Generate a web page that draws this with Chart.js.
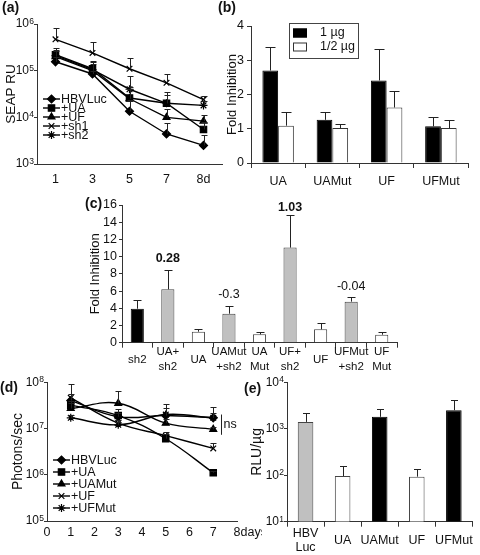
<!DOCTYPE html>
<html><head><meta charset="utf-8">
<script src="https://cdn.jsdelivr.net/npm/chart.js@4.4.0/dist/chart.umd.min.js"></script>
<style>
body{margin:0;background:#fff;width:480px;height:555px;position:relative;overflow:hidden;font-family:"Liberation Sans",Arial,sans-serif;}
canvas{position:absolute;}
.pl{position:absolute;font:bold 14px "Liberation Sans",Arial,sans-serif;line-height:15px;color:#111;}
</style></head><body>
<canvas id="ca" width="228" height="196" style="left:0;top:0"></canvas>
<canvas id="cb" width="258" height="196" style="left:222px;top:0"></canvas>
<canvas id="cc" width="330" height="190" style="left:80px;top:190px"></canvas>
<canvas id="cd" width="262" height="185" style="left:0;top:370px"></canvas>
<canvas id="ce" width="240" height="185" style="left:240px;top:370px"></canvas>
<div class="pl" style="left:2px;top:0">(a)</div>
<div class="pl" style="left:218px;top:0">(b)</div>
<div class="pl" style="left:85px;top:196px">(c)</div>
<div class="pl" style="left:0;top:380px">(d)</div>
<div class="pl" style="left:244px;top:381px">(e)</div>
<script>
// ---------- DATA ----------
// (a) SEAP RU over days
const daysA = ['1', '3', '5', '7', '8d'];
const hbvLucA = [1.55e5, 8.5e4, 1.35e4, 4.4e3, 2.5e3];
const uaA     = [2.2e5, 1.1e5, 2.6e4, 2.0e4, 5.5e3];
const ufA     = [2.0e5, 1.0e5, 2.5e4, 1.0e4, 8.3e3];
const sh1A    = [4.7e5, 2.4e5, 1.1e5, 5.5e4, 2.4e4];
const sh2A    = [2.1e5, 1.05e5, 4.0e4, 2.0e4, 1.8e4];
const hbvLucAErr = [2.0e5, 1.0e5, 2.4e4, 7.5e3, 4.2e3];
const uaAErr     = [3.0e5, 1.5e5, 4.5e4, 3.5e4, 8.0e3];
const ufAErr     = [2.6e5, 1.4e5, 4.0e4, 1.5e4, 1.1e4];
const sh1AErr    = [8.1e5, 4.2e5, 1.9e5, 8.5e4, 2.8e4];
const sh2AErr    = [2.8e5, 1.6e5, 7.7e4, 3.0e4, 2.2e4];
// (b) Fold inhibition
const catsB = ['UA', 'UAMut', 'UF', 'UFMut'];
const oneUg = [2.70, 1.26, 2.41, 1.07];
const halfUg = [1.09, 1.02, 1.62, 1.02];
const oneUgErr = [3.40, 1.50, 3.32, 1.34];
const halfUgErr = [1.50, 1.13, 2.09, 1.26];
// (c) Fold inhibition with sh2
const catsC = ['sh2', ['UA+', 'sh2'], 'UA', ['UAMut', '+sh2'], ['UA', 'Mut'], ['UF+', 'sh2'], 'UF', ['UFMut', '+sh2'], ['UF', 'Mut']];
const foldC = [3.95, 6.2, 1.28, 3.37, 0.97, 11.05, 1.55, 4.77, 0.93];
const foldCErr = [4.96, 8.45, 1.59, 4.3, 1.2, 14.84, 2.25, 5.27, 1.2];
const notesC = ['', '0.28', '', '-0.3', '', '1.03', '', '-0.04', ''];
const notesBoldC = [false, true, false, false, false, true, false, false, false];
// (d) Photons/sec over days
const daysD = [1, 3, 5, 7];
const hbvLucD = [4.0e7, 1.8e7, 1.9e7, 1.7e7];
const uaD     = [3.2e7, 1.9e7, 6.0e6, 1.1e6];
const uaMutD  = [2.7e7, 3.5e7, 1.3e7, 9.6e6];
const ufD     = [4.6e7, 1.3e7, 7.0e6, 3.7e6];
const ufMutD  = [1.7e7, 1.2e7, 2.0e7, 1.7e7];
const hbvLucDErr = [5.5e7, 2.6e7, 2.8e7, 2.9e7];
const uaDErr     = [4.0e7, 2.2e7, 7.5e6, 1.2e6];
const uaMutDErr  = [3.5e7, 6.6e7, 1.6e7, 1.1e7];
const ufDErr     = [9.0e7, 1.5e7, 8.5e6, 4.8e6];
const ufMutDErr  = [2.0e7, 1.4e7, 3.4e7, 2.2e7];
const nsBracket = {x: 7.32, top: 2.0e7, bottom: 7.3e6, text: 'ns'};
// (e) RLU/µg
const catsE = [['HBV', 'Luc'], 'UA', 'UAMut', 'UF', 'UFMut'];
const rluE = [1.4e3, 96, 1.8e3, 93, 2.5e3];
const rluEErr = [2.2e3, 158, 2.6e3, 135, 4.2e3];

// ---------- HELPERS ----------
const FF = '"Liberation Sans", Arial, sans-serif';
const AX = '#333', TXT = '#111';
Chart.defaults.font.family = FF;
Chart.defaults.color = TXT;
const decadeTicks = s => {
  const out = [];
  for (let e = Math.round(Math.log10(s.min)); e <= Math.round(Math.log10(s.max)); e++) out.push({value: Math.pow(10, e)});
  s.ticks = out;
};
const baseTen = () => '10';
const fixW = w => s => { s.width = w; };
const fixH = h => s => { s.height = h; };
const yTitle = (text, size, padTop) => ({display: true, text, color: TXT, font: {family: FF, size}, padding: {top: padTop, bottom: 0}});
const common = {responsive: false, animation: false, events: []};
const basePlugins = {legend: {display: false}, tooltip: {enabled: false}};

function drawMarker(ctx, style, r, x, y) {
  if (Chart.helpers && Chart.helpers.drawPoint) {
    Chart.helpers.drawPoint(ctx, {pointStyle: style, radius: r, borderWidth: ctx.lineWidth, rotation: 0}, x, y);
  } else { ctx.beginPath(); ctx.arc(x, y, r, 0, Math.PI * 2); ctx.fill(); }
}

// exponent of the "10" tick labels on log axes (superscript)
const expLabels = {
  id: 'expLabels',
  afterDraw(chart, args, o) {
    const ys = chart.scales.y, ctx = chart.ctx;
    const tl = ys.options.grid.tickLength;
    ctx.save(); ctx.font = o.size + 'px ' + FF; ctx.fillStyle = TXT;
    ctx.textAlign = 'left'; ctx.textBaseline = 'alphabetic';
    ys.ticks.forEach(t => {
      const y = ys.getPixelForValue(t.value);
      ctx.fillText(String(Math.round(Math.log10(t.value))), chart.chartArea.left - tl - o.w, y + o.dy);
    });
    ctx.restore();
  }
};

const errorBars = {
  id: 'errorBars',
  afterDatasetsDraw(chart, args, o) {
    const ctx = chart.ctx, ys = chart.scales.y;
    ctx.save(); ctx.strokeStyle = '#222'; ctx.lineWidth = 1;
    chart.data.datasets.forEach((ds, di) => {
      if (!ds.errUp) return;
      chart.getDatasetMeta(di).data.forEach((el, i) => {
        const v = ds.errUp[i]; if (v == null) return;
        const x = Math.round(el.x) + 0.5, y1 = Math.round(ys.getPixelForValue(v)) + 0.5;
        ctx.beginPath(); ctx.moveTo(x, el.y); ctx.lineTo(x, y1);
        ctx.moveTo(x - o.cap, y1); ctx.lineTo(x + o.cap, y1); ctx.stroke();
      });
    });
    ctx.restore();
  }
};

const lineLegend = {
  id: 'lineLegend',
  afterDraw(chart, args, o) {
    const ctx = chart.ctx; ctx.save();
    ctx.font = o.size + 'px ' + FF; ctx.textBaseline = 'middle'; ctx.textAlign = 'left';
    chart.data.datasets.forEach((ds, i) => {
      const y = o.y + i * o.dy;
      ctx.strokeStyle = '#000'; ctx.lineWidth = ds.borderWidth;
      ctx.beginPath(); ctx.moveTo(o.x, y); ctx.lineTo(o.x + o.w, y); ctx.stroke();
      ctx.fillStyle = '#000'; ctx.lineWidth = ds.pointBorderWidth;
      drawMarker(ctx, ds.pointStyle, ds.pointRadius, o.x + o.w / 2, y);
      ctx.fillStyle = TXT; ctx.fillText(ds.label, o.x + o.w + 1, y + 0.5);
    });
    ctx.restore();
  }
};

const boxLegend = {
  id: 'boxLegend',
  afterDraw(chart, args, o) {
    const ctx = chart.ctx; ctx.save();
    ctx.strokeStyle = '#444'; ctx.lineWidth = 1;
    ctx.strokeRect(o.x + 0.5, o.y + 0.5, o.w, o.h);
    ctx.font = o.size + 'px ' + FF; ctx.textBaseline = 'middle'; ctx.textAlign = 'left';
    chart.data.datasets.forEach((ds, i) => {
      const y = o.y + o.top + i * o.dy;
      ctx.fillStyle = ds.backgroundColor; ctx.fillRect(o.sx, y - o.sh / 2, o.sw, o.sh);
      ctx.strokeStyle = ds.borderColor; ctx.strokeRect(o.sx + 0.5, y - o.sh / 2 + 0.5, o.sw - 1, o.sh - 1);
      ctx.fillStyle = TXT; ctx.fillText(ds.label, o.tx, y);
    });
    ctx.restore();
  }
};

const barNotes = {
  id: 'barNotes',
  afterDatasetsDraw(chart, args, o) {
    const ctx = chart.ctx, ys = chart.scales.y, ds = chart.data.datasets[0];
    ctx.save(); ctx.textAlign = 'center'; ctx.textBaseline = 'middle'; ctx.fillStyle = TXT;
    chart.getDatasetMeta(0).data.forEach((el, i) => {
      const t = ds.notes[i]; if (!t) return;
      ctx.font = (ds.notesBold[i] ? 'bold ' : '') + o.size + 'px ' + FF;
      let y = ys.getPixelForValue(ds.errUp[i]) - o.gap;
      y = Math.max(y, chart.chartArea.top + 3);
      ctx.fillText(t, el.x, y);
    });
    ctx.restore();
  }
};

const dExtras = {
  id: 'dExtras',
  afterDraw(chart, args, o) {
    const ctx = chart.ctx, xs = chart.scales.x, ys = chart.scales.y;
    ctx.save(); ctx.font = o.size + 'px ' + FF; ctx.fillStyle = TXT;
    ctx.textBaseline = 'middle'; ctx.textAlign = 'left';
    const lastX = xs.getPixelForValue(xs.max);
    const w = ctx.measureText(String(xs.max)).width;
    ctx.fillText(o.unit, lastX + w / 2, chart.chartArea.bottom + o.labelOffset);
    const bx = Math.round(xs.getPixelForValue(nsBracket.x)) + 0.5;
    const y1 = ys.getPixelForValue(nsBracket.top), y2 = ys.getPixelForValue(nsBracket.bottom);
    ctx.strokeStyle = '#222'; ctx.lineWidth = 1;
    ctx.beginPath(); ctx.moveTo(bx, y1); ctx.lineTo(bx, y2); ctx.stroke();
    ctx.fillText(nsBracket.text, bx + 2, (y1 + y2) / 2);
    ctx.restore();
  }
};

const lineDs = (label, data, err, style, r, tension) => ({
  label, data, errUp: err, borderColor: '#000', borderWidth: 1.4, fill: false, tension,
  pointStyle: style, pointRadius: r, pointBorderWidth: 1.2,
  pointBackgroundColor: '#000', pointBorderColor: '#000'
});
const xyOf = arr => daysD.map((d, i) => ({x: d, y: arr[i]}));
const logY = (min, max, title, tsize, tpad, width) => ({
  type: 'logarithmic', min, max, afterBuildTicks: decadeTicks,
  grid: {drawOnChartArea: false, tickLength: 3, color: AX},
  border: {color: AX},
  ticks: {callback: baseTen, color: TXT, font: {size: 12}, padding: 5, autoSkip: false},
  title: yTitle(title, tsize, tpad),
  afterFit: fixW(width)
});
const expOpts = {size: 8.5, w: 4.8, dy: 0};

// ---------- (a) ----------
new Chart(document.getElementById('ca'), {
  type: 'line',
  data: {labels: daysA, datasets: [
    lineDs('HBVLuc', hbvLucA, hbvLucAErr, 'rectRot', 4, 0),
    lineDs('+UA', uaA, uaAErr, 'rect', 4.5, 0),
    lineDs('+UF', ufA, ufAErr, 'triangle', 4, 0),
    lineDs('+sh1', sh1A, sh1AErr, 'crossRot', 4, 0),
    lineDs('+sh2', sh2A, sh2AErr, 'star', 4, 0)
  ]},
  options: {...common,
    layout: {padding: {top: 24, right: 6, left: 0, bottom: 0}},
    scales: {
      x: {type: 'category', offset: true,
        grid: {display: true, drawOnChartArea: false, drawTicks: false},
        border: {color: AX},
        ticks: {color: TXT, font: {size: 12.5}, padding: 8.5, maxRotation: 0, autoSkip: false},
        afterFit: fixH(32)},
      y: logY(1e3, 1e6, 'SEAP RU', 13.5, 3, 37)
    },
    plugins: {...basePlugins, errorBars: {cap: 3}, expLabels: expOpts,
      lineLegend: {x: 43, y: 99, dy: 9, w: 17, size: 12.5}}
  },
  plugins: [errorBars, lineLegend, expLabels]
});

// ---------- (b) ----------
new Chart(document.getElementById('cb'), {
  type: 'bar',
  data: {labels: catsB, datasets: [
    {label: '1 µg', data: oneUg, errUp: oneUgErr, backgroundColor: '#000', borderColor: '#000', borderWidth: 1, categoryPercentage: 0.58, barPercentage: 1},
    {label: '1/2 µg', data: halfUg, errUp: halfUgErr, backgroundColor: '#fff', borderColor: '#333', borderWidth: 1, categoryPercentage: 0.58, barPercentage: 1}
  ]},
  options: {...common,
    layout: {padding: {top: 26, right: 12, left: 0, bottom: 0}},
    scales: {
      x: {grid: {display: true, drawOnChartArea: false, drawTicks: true, tickLength: 5, color: AX},
        border: {color: AX},
        ticks: {color: TXT, font: {size: 12.5}, padding: 6, maxRotation: 0, autoSkip: false},
        afterFit: fixH(33)},
      y: {min: 0, max: 4,
        grid: {drawOnChartArea: false, tickLength: 4, color: AX},
        border: {color: AX},
        ticks: {stepSize: 1, color: TXT, font: {size: 12.5}, padding: 3, autoSkip: false},
        title: yTitle('Fold Inhibition', 13, 3),
        afterFit: fixW(29)}
    },
    plugins: {...basePlugins, errorBars: {cap: 5},
      boxLegend: {x: 67, y: 23, w: 69, h: 35, top: 10, dy: 14, sx: 71, sw: 14, sh: 9, tx: 98, size: 12.5}}
  },
  plugins: [errorBars, boxLegend]
});

// ---------- (c) ----------
new Chart(document.getElementById('cc'), {
  type: 'bar',
  data: {labels: catsC, datasets: [
    {label: 'Fold Inhibition', data: foldC, errUp: foldCErr, notes: notesC, notesBold: notesBoldC,
      backgroundColor: ['#000', '#c0c0c0', '#fff', '#c0c0c0', '#fff', '#c0c0c0', '#fff', '#c0c0c0', '#fff'],
      borderColor: ['#000', '#444', '#444', '#444', '#444', '#444', '#444', '#444', '#444'],
      borderWidth: 1, categoryPercentage: 0.43, barPercentage: 1}
  ]},
  options: {...common,
    layout: {padding: {top: 15, right: 13, left: 0, bottom: 0}},
    scales: {
      x: {grid: {display: true, drawOnChartArea: false, drawTicks: true, tickLength: 5, color: AX},
        border: {color: AX},
        ticks: {color: TXT, font: {size: 11.5, lineHeight: 1.3}, padding: 4.3, maxRotation: 0, autoSkip: false, crossAlign: 'center'},
        afterFit: fixH(37.3)},
      y: {min: 0, max: 16,
        grid: {drawOnChartArea: false, tickLength: 3, color: AX},
        border: {color: AX},
        ticks: {stepSize: 2, color: TXT, font: {size: 12.5}, padding: 2, autoSkip: false},
        title: yTitle('Fold Inhibition', 13, 8),
        afterFit: fixW(42)}
    },
    plugins: {...basePlugins, errorBars: {cap: 4}, barNotes: {size: 12.5, gap: 11}}
  },
  plugins: [errorBars, barNotes]
});

// ---------- (d) ----------
new Chart(document.getElementById('cd'), {
  type: 'line',
  data: {datasets: [
    lineDs('HBVLuc', xyOf(hbvLucD), hbvLucDErr, 'rectRot', 4, 0.4),
    lineDs('+UA', xyOf(uaD), uaDErr, 'rect', 4.5, 0.4),
    lineDs('+UAMut', xyOf(uaMutD), uaMutDErr, 'triangle', 4, 0.4),
    lineDs('+UF', xyOf(ufD), ufDErr, 'crossRot', 4, 0.4),
    lineDs('+UFMut', xyOf(ufMutD), ufMutDErr, 'star', 4, 0.4)
  ]},
  options: {...common,
    layout: {padding: {top: 12, right: 25, left: 0, bottom: 0}},
    scales: {
      x: {type: 'linear', min: 0, max: 8,
        grid: {display: true, drawOnChartArea: false, drawTicks: false},
        border: {color: AX},
        ticks: {stepSize: 1, color: TXT, font: {size: 12.5}, padding: 4.5, maxRotation: 0, autoSkip: false},
        afterFit: fixH(34)},
      y: logY(1e5, 1e8, 'Photons/sec', 14, 9.6, 47)
    },
    plugins: {...basePlugins, errorBars: {cap: 3}, expLabels: expOpts,
      lineLegend: {x: 53, y: 90, dy: 12, w: 17, size: 12.5},
      dExtras: {unit: 'days', size: 12.5, labelOffset: 12}}
  },
  plugins: [errorBars, lineLegend, dExtras, expLabels]
});

// ---------- (e) ----------
new Chart(document.getElementById('ce'), {
  type: 'bar',
  data: {labels: catsE, datasets: [
    {label: 'RLU/µg', data: rluE, errUp: rluEErr,
      backgroundColor: ['#c0c0c0', '#fff', '#000', '#fff', '#000'],
      borderColor: ['#444', '#444', '#000', '#444', '#000'],
      borderWidth: 1, categoryPercentage: 0.42, barPercentage: 1}
  ]},
  options: {...common,
    layout: {padding: {top: 12, right: 1, left: 0, bottom: 0}},
    scales: {
      x: {grid: {display: true, drawOnChartArea: false, drawTicks: true, tickLength: 5, color: AX},
        border: {color: AX},
        ticks: {color: TXT, font: {size: 12.5, lineHeight: 1.12}, padding: 7.3, maxRotation: 0, autoSkip: false, crossAlign: 'center'},
        afterFit: fixH(33.3)},
      y: logY(10, 1e4, 'RLU/µg', 14, 8.6, 47)
    },
    plugins: {...basePlugins, errorBars: {cap: 3.5}, expLabels: expOpts}
  },
  plugins: [errorBars, expLabels]
});
</script>
</body></html>
